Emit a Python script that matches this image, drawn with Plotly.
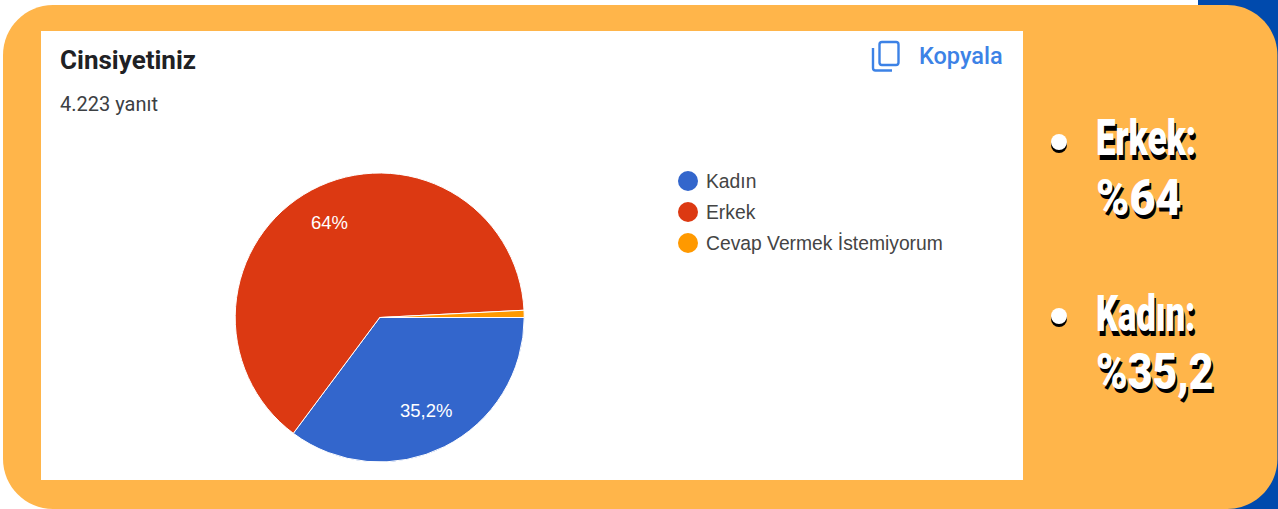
import json
import math
import plotly.graph_objects as go

# Data
categories = ["Kadın", "Erkek", "Cevap Vermek İstemiyorum"]
values = [35.2, 64.0, 0.8]
slice_labels = ["35,2%", "64%", ""]
label_radius = [0.72, 0.745, 0.0]
colors = ["#3366CC", "#DC3912", "#FF9900"]
title_text = "Cinsiyetiniz"
subtitle_text = "4.223 yanıt"
copy_text = "Kopyala"
side_lines = ["Erkek:", "%64", "Kadın:", "%35,2"]
side_line_y = [138, 198, 314, 372]
side_line_stretch = [0.70, 0.90, 0.69, 0.855]
bullet_y = [142, 316]
legend_y = [181, 212, 243]

W, H = 1278, 509
ORANGE = "#FFB54A"
BLUE = "#004AAD"
ICON = "#3C82E6"

def rounded(x0, y0, x1, y1, r):
    k = r * 0.45
    return (f"M{x0+r},{y0} L{x1-r},{y0} C{x1-k},{y0} {x1},{y0+k} {x1},{y0+r} "
            f"L{x1},{y1-r} C{x1},{y1-k} {x1-k},{y1} {x1-r},{y1} "
            f"L{x0+r},{y1} C{x0+k},{y1} {x0},{y1-k} {x0},{y1-r} "
            f"L{x0},{y0+r} C{x0},{y0+k} {x0+k},{y0} {x0+r},{y0} Z")

shapes = [
    dict(type="rect", x0=1198, x1=W, y0=0, y1=H, fillcolor=BLUE, line_width=0, layer="below"),
    dict(type="path", path=rounded(3, 5, 1277.4, 509, 50), fillcolor=ORANGE, line_width=0, layer="below"),
    dict(type="rect", x0=41, x1=1023, y0=31, y1=480, fillcolor="white", line_width=0, layer="below"),
    # copy icon
    dict(type="path", path="M882,42 L896,42 Q898.5,42 898.5,44.5 L898.5,62.5 Q898.5,65 896,65 L882,65 Q879.5,65 879.5,62.5 L879.5,44.5 Q879.5,42 882,42 Z",
         line=dict(color=ICON, width=2.4), fillcolor="rgba(0,0,0,0)", layer="below"),
    dict(type="path", path="M873,48 L873,68 Q873,70.5 875.5,70.5 L892,70.5",
         line=dict(color=ICON, width=2.4), fillcolor="rgba(0,0,0,0)", layer="below"),
]

fig = go.Figure()

cx, cy, R = 379.7, 317.5, 144.5
fig.add_trace(go.Pie(
    labels=categories, values=values, textinfo="none",
    marker=dict(colors=colors, line=dict(color="white", width=1)),
    sort=False, direction="clockwise", rotation=90, showlegend=False, hoverinfo="label+percent",
    domain=dict(x=[(cx - R) / W, (cx + R) / W], y=[1 - (cy + R) / H, 1 - (cy - R) / H]),
))

# legend dots
fig.add_trace(go.Scatter(x=[688] * len(categories), y=legend_y, mode="markers",
                         marker=dict(color=colors, size=20, line_width=0), showlegend=False, hoverinfo="skip"))
# side bullets: shadow then white
fig.add_trace(go.Scatter(x=[1059] * 2, y=[b + 3 for b in bullet_y], mode="markers",
                         marker=dict(color="black", size=16, line_width=0), showlegend=False, hoverinfo="skip"))
fig.add_trace(go.Scatter(x=[1059] * 2, y=bullet_y, mode="markers",
                         marker=dict(color="white", size=16, line_width=0), showlegend=False, hoverinfo="skip"))

def note(x, y, text, family, size, color, weight="normal", shadow=None, anchor="left", xshift=-2):
    font = dict(family=family, size=size, color=color, weight=weight)
    if shadow:
        font["shadow"] = shadow
    return dict(x=x, y=y, xref="x", yref="y", text=text, showarrow=False,
                xanchor=anchor, yanchor="middle", xshift=xshift, font=font)

annotations = [
    note(60, 60, title_text, "Roboto", 26, "#202124", "bold"),
    note(60, 104, subtitle_text, "Roboto", 20, "#3C4043"),
    note(919, 56, copy_text, "Roboto", 23.5, ICON, 500),
]
for name, y in zip(categories, legend_y):
    annotations.append(note(706, y, name, "Liberation Sans", 19.3, "#444444"))

# slice labels, placed along each slice's mid-angle
total = sum(values)
running = 0.0
for value, label, frac in zip(values, slice_labels, label_radius):
    mid = 2 * math.pi * (running + value / 2) / total
    running += value
    if label:
        annotations.append(note(cx + frac * R * math.cos(mid), cy + frac * R * math.sin(mid),
                                label, "Liberation Sans", 18.5, "white", anchor="center", xshift=0))

for line, y in zip(side_lines, side_line_y):
    annotations.append(note(1097, y, line, "Roboto", 50, "white", 900, "2px 4px 0 #000", xshift=-3))

fig.update_layout(
    width=W, height=H, margin=dict(l=0, r=0, t=0, b=0),
    paper_bgcolor="white", plot_bgcolor="rgba(0,0,0,0)",
    xaxis=dict(range=[0, W], visible=False, fixedrange=True, domain=[0, 1]),
    yaxis=dict(range=[H, 0], visible=False, fixedrange=True, domain=[0, 1]),
    shapes=shapes, annotations=annotations, showlegend=False,
)

post = """
document.body.style.margin='0';
document.documentElement.style.overflow='hidden';
var names = %s, stretch = %s;
document.querySelectorAll('.annotation text').forEach(function(t){
  var i = names.indexOf(t.textContent);
  if (i >= 0) {
    t.style.transformBox='fill-box';
    t.style.transformOrigin='left center';
    t.style.transform='scaleX(' + stretch[i] + ')';
  }
});
""" % (json.dumps(side_lines, ensure_ascii=False), json.dumps(side_line_stretch))

fig.write_html("out.html", config=dict(displayModeBar=False), post_script=post)
